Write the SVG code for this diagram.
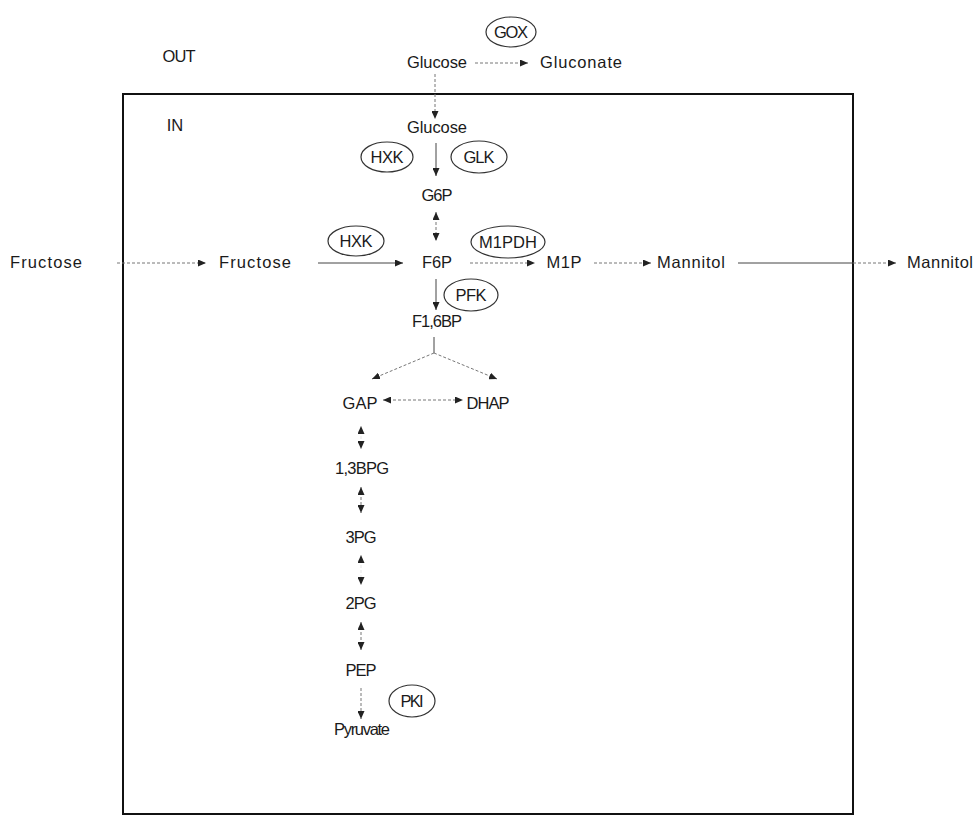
<svg xmlns="http://www.w3.org/2000/svg" width="975" height="816" viewBox="0 0 975 816">
<defs>
<style>
text{font-family:"Liberation Sans","DejaVu Sans",sans-serif;font-size:16.5px;fill:#1a1a1a;text-anchor:middle}
.enz{fill:none;stroke:#333;stroke-width:1.2}
.sol{stroke:#444;stroke-width:1;fill:none}
.dash{stroke:#777;stroke-width:1;fill:none;stroke-dasharray:3 2}
.box{fill:none;stroke:#111;stroke-width:2}
</style>
<marker id="ah" viewBox="0 0 8 7" refX="8" refY="3.5" markerWidth="8" markerHeight="7" markerUnits="userSpaceOnUse" orient="auto-start-reverse">
<path d="M0,0 L8,3.5 L0,7 z" fill="#222"/>
</marker>
</defs>
<rect width="975" height="816" fill="#fff"/>
<rect class="box" x="123" y="94" width="730" height="720"/>
<g id="labels">
<text x="179" y="62" textLength="33">OUT</text>
<text x="175" y="131">IN</text>
</g>
<g id="glucose_out"><text x="437" y="68" textLength="60">Glucose</text></g>
<g id="gluconate"><text x="581" y="68" textLength="82">Gluconate</text></g>
<g id="gox"><ellipse class="enz" cx="511" cy="32" rx="25" ry="15"/><text x="511" y="38" textLength="34">GOX</text></g>
<g id="glucose_in"><text x="437" y="133" textLength="60">Glucose</text></g>
<g id="hxk1"><ellipse class="enz" cx="387" cy="157" rx="26" ry="15"/><text x="387" y="163" textLength="33">HXK</text></g>
<g id="glk"><ellipse class="enz" cx="479" cy="157" rx="28" ry="16"/><text x="479" y="163" textLength="31">GLK</text></g>
<g id="g6p"><text x="437" y="201" textLength="31">G6P</text></g>
<g id="fructose_out"><text x="46" y="268" textLength="72">Fructose</text></g>
<g id="fructose_in"><text x="255" y="268" textLength="72">Fructose</text></g>
<g id="hxk2"><ellipse class="enz" cx="356" cy="241" rx="28" ry="15"/><text x="356" y="247" textLength="33">HXK</text></g>
<g id="f6p"><text x="437" y="268" textLength="30">F6P</text></g>
<g id="m1pdh"><ellipse class="enz" cx="508" cy="242" rx="37" ry="16"/><text x="508" y="248" textLength="58">M1PDH</text></g>
<g id="m1p"><text x="564" y="268" textLength="35">M1P</text></g>
<g id="mannitol_in"><text x="691" y="268" textLength="68">Mannitol</text></g>
<g id="mannitol_out"><text x="940" y="268" textLength="66">Mannitol</text></g>
<g id="pfk"><ellipse class="enz" cx="471" cy="295" rx="27" ry="16"/><text x="471" y="301" textLength="31">PFK</text></g>
<g id="f16bp"><text x="437" y="327" textLength="50">F1,6BP</text></g>
<g id="gap"><text x="360" y="409" textLength="35">GAP</text></g>
<g id="dhap"><text x="488" y="409" textLength="43">DHAP</text></g>
<g id="bpg13"><text x="362" y="474" textLength="54">1,3BPG</text></g>
<g id="pg3"><text x="361" y="543" textLength="31">3PG</text></g>
<g id="pg2"><text x="361" y="609" textLength="31">2PG</text></g>
<g id="pep"><text x="361" y="676" textLength="31">PEP</text></g>
<g id="pki"><ellipse class="enz" cx="412" cy="701" rx="23" ry="16"/><text x="412" y="707" textLength="23">PKI</text></g>
<g id="pyruvate"><text x="362" y="735" textLength="56">Pyruvate</text></g>
<g id="connectors">
<line class="dash" x1="475" y1="63" x2="528" y2="63" marker-end="url(#ah)"/>
<line class="dash" x1="435" y1="74" x2="435" y2="119" marker-end="url(#ah)"/>
<line class="sol" x1="436" y1="143" x2="436" y2="176" marker-end="url(#ah)"/>
<line class="dash" x1="436" y1="212" x2="436" y2="241" marker-start="url(#ah)" marker-end="url(#ah)"/>
<line class="dash" x1="117" y1="263" x2="206" y2="263" marker-end="url(#ah)"/>
<line class="sol" x1="318" y1="263" x2="403" y2="263" marker-end="url(#ah)"/>
<line class="dash" x1="470" y1="263" x2="535" y2="263" marker-end="url(#ah)"/>
<line class="dash" x1="594" y1="263" x2="651" y2="263" marker-end="url(#ah)"/>
<line class="sol" x1="738" y1="263" x2="853" y2="263"/>
<line class="dash" x1="853" y1="263" x2="896" y2="263" marker-end="url(#ah)"/>
<line class="sol" x1="436" y1="279" x2="436" y2="310" marker-end="url(#ah)"/>
<line class="sol" x1="434" y1="337" x2="434" y2="353"/>
<line class="dash" x1="434" y1="353" x2="372" y2="379" marker-end="url(#ah)"/>
<line class="dash" x1="434" y1="353" x2="497" y2="379" marker-end="url(#ah)"/>
<line class="dash" x1="383" y1="400" x2="463" y2="400" marker-start="url(#ah)" marker-end="url(#ah)"/>
<line class="dash" x1="361" y1="426" x2="361" y2="449" stroke-opacity="0.2" marker-start="url(#ah)" marker-end="url(#ah)"/>
<line class="dash" x1="361" y1="487" x2="361" y2="513" marker-start="url(#ah)" marker-end="url(#ah)"/>
<line class="dash" x1="361" y1="555" x2="361" y2="585" stroke-opacity="0.2" marker-start="url(#ah)" marker-end="url(#ah)"/>
<line class="dash" x1="361" y1="622" x2="361" y2="650" marker-start="url(#ah)" marker-end="url(#ah)"/>
<line class="dash" x1="361" y1="688" x2="361" y2="719" marker-end="url(#ah)"/>
</g>
</svg>
